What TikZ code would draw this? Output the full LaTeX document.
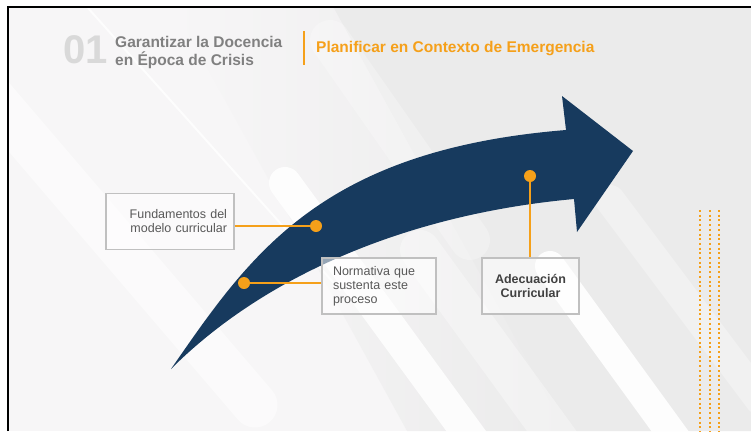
\documentclass[tikz,border=0pt]{standalone}
\usepackage{fontspec}
\setmainfont{Liberation Sans}
\usepackage{tikz}

\definecolor{arrowblue}{HTML}{173A5E}
\definecolor{dotorange}{HTML}{F5A01A}
\definecolor{boxgray}{HTML}{C0C0C0}
\definecolor{textgray}{HTML}{595959}
\definecolor{adectext}{HTML}{404040}
\definecolor{titlegray}{HTML}{808080}
\definecolor{numgray}{HTML}{D9D9D9}
\definecolor{bgdark}{HTML}{EBEBEB}
\definecolor{bglight}{HTML}{F7F6F7}

\begin{document}
\begin{tikzpicture}[x=1pt, y=-1pt,
  infobox/.style={draw=boxgray, line width=1.2pt, fill=white, fill opacity=0.55, text opacity=1,
    text=textgray, minimum height=56pt, inner ysep=0pt, font=\fontsize{12.5}{14}\selectfont},
  orangedot/.style={circle, fill=dotorange, minimum size=12pt, inner sep=0pt},
  link/.style={draw=dotorange, line width=1.3pt}]
  \useasboundingbox (0,0) rectangle (751,431);

  % Background
  \begin{scope}
    \clip (8,6.5) rectangle (751,431);
    \fill[bglight] (0,0) rectangle (751,431);
    \begin{scope}[xslant=-0.55]
      \shade[left color=bglight, right color=bgdark] (170,0) rectangle (330,431);
      \fill[bgdark] (329.5,0) rectangle (800,431);
    \end{scope}
    \begin{scope}[line cap=round, white]
      \draw[line width=45pt, opacity=0.5] (-10,95) -- (255,405);
      \draw[line width=2pt, opacity=0.8] (88,8) -- (340,290);
      \draw[line width=32pt, opacity=0.85] (285,183) -- (480,450);
      \draw[line width=40pt, opacity=0.35] (420,250) -- (580,470);
      \draw[line width=30pt, opacity=0.9] (550,266) -- (720,500);
      \draw[line width=30pt, opacity=0.3] (610,200) -- (760,400);
      \draw[line width=40pt, opacity=0.25] (330,40) -- (470,240);
    \end{scope}
  \end{scope}
  \draw[line width=2pt] (8,431) -- (8,6.5) -- (751,6.5);

  % Header
  \node[anchor=west, inner sep=0pt, text=numgray, font=\fontsize{40}{40}\selectfont\bfseries] (num) at (63,50) {01};
  \node[anchor=west, inner sep=0pt, align=left, text=titlegray, font=\fontsize{15.5}{18}\selectfont\bfseries] (title) at (115,52) {Garantizar la Docencia\\en Época de Crisis};
  \draw[dotorange, line width=2pt] (304,31) -- (304,65);
  \node[anchor=west, inner sep=0pt, text=dotorange, font=\fontsize{15.5}{18}\selectfont\bfseries] (topic) at (316,48.5) {Planificar en Contexto de Emergencia};

  % Arrow
  \fill[arrowblue] (171,369) .. controls (250,255) and (320,150) .. (566,130) -- (562,96) -- (633,151)
    -- (577,232) -- (574,199) .. controls (400,215) and (260,280) .. cycle;

  % Nodes
  \node[infobox, minimum width=128pt, text width=114pt, align=right] (fund) at (170,221.5) {Fundamentos del\\modelo curricular};
  \node[infobox, minimum width=114pt, text width=92pt, align=left] (norm) at (379,286) {Normativa que\\sustenta este\\proceso};
  \node[infobox, minimum width=97pt, align=center, text=adectext, font=\fontsize{12.5}{14}\selectfont\bfseries] (adec) at (530.5,286) {Adecuación\\Curricular};
  \node[orangedot] (fdot) at (316,226) {};
  \node[orangedot] (ndot) at (244,283) {};
  \node[orangedot] (adot) at (530,176) {};

  % Edges
  \draw[link] (fdot) -- (fdot -| fund.east);
  \draw[link] (ndot) -- (ndot -| norm.west);
  \draw[link] (adot) -- (adot |- adec.north);

  % Dotted lines
  \foreach \x in {700,709.5,719}
    \draw[dotorange, line width=2pt, dash pattern=on 2pt off 2.7pt] (\x,210) -- (\x,431);
\end{tikzpicture}
\end{document}
